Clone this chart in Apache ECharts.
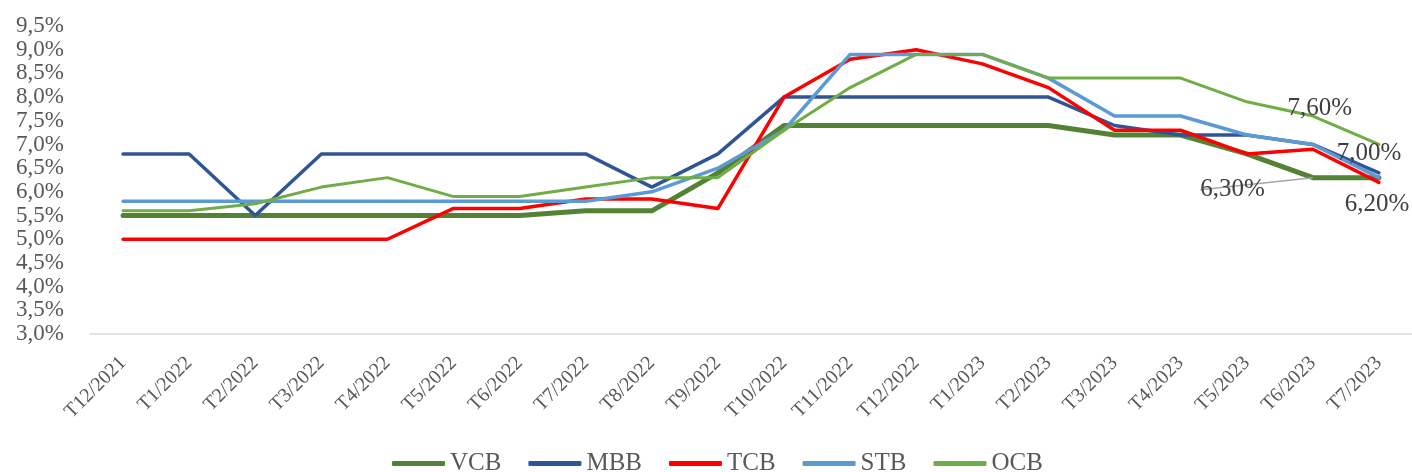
<!DOCTYPE html>
<html>
<head>
<meta charset="utf-8">
<script src="https://cdn.jsdelivr.net/npm/echarts@6/dist/echarts.min.js"></script>
<style>html,body{margin:0;padding:0;background:#fff}#c{width:1412px;height:472px}</style>
</head>
<body>
<div id="c"></div>
<script>
const categories = ['T12/2021','T1/2022','T2/2022','T3/2022','T4/2022','T5/2022','T6/2022','T7/2022','T8/2022','T9/2022','T10/2022','T11/2022','T12/2022','T1/2023','T2/2023','T3/2023','T4/2023','T5/2023','T6/2023','T7/2023'];
const VCB = [5.5,5.5,5.5,5.5,5.5,5.5,5.5,5.6,5.6,6.4,7.4,7.4,7.4,7.4,7.4,7.2,7.2,6.8,6.3,6.3];
const MBB = [6.8,6.8,5.5,6.8,6.8,6.8,6.8,6.8,6.1,6.8,8.0,8.0,8.0,8.0,8.0,7.4,7.2,7.2,7.0,6.4];
const TCB = [5.0,5.0,5.0,5.0,5.0,5.65,5.65,5.85,5.85,5.65,8.0,8.8,9.0,8.7,8.2,7.3,7.3,6.8,6.9,6.2];
const STB = [5.8,5.8,5.8,5.8,5.8,5.8,5.8,5.8,6.0,6.5,7.3,8.9,8.9,8.9,8.4,7.6,7.6,7.2,7.0,6.3];
const OCB = [5.6,5.6,5.75,6.1,6.3,5.9,5.9,6.1,6.3,6.3,7.3,8.2,8.9,8.9,8.4,8.4,8.4,7.9,7.6,7.0];
const yTicks = {min: 3.0, max: 9.5, interval: 0.5};

const serif = '"Liberation Serif","Times New Roman",serif';
const fmt1 = v => v.toFixed(1).replace('.', ',') + '%';
const fmt2 = v => v.toFixed(2).replace('.', ',') + '%';

const labelStyle = {show: true, fontFamily: serif, fontSize: 25, color: '#404040', formatter: p => fmt2(p.value)};

function withLabels(arr, labels) {
  return arr.map((v, i) => labels[i] ? {value: v, label: Object.assign({}, labelStyle, labels[i])} : v);
}

const mk = (name, data, color, width, z, extra) => Object.assign({
  name, type: 'line', data, symbol: 'circle', symbolSize: 0, showSymbol: true, z,
  lineStyle: {color, width, cap: 'round', join: 'round'},
  itemStyle: {color},
  emphasis: {disabled: true},
  animation: false
}, extra || {});

const option = {
  backgroundColor: '#fff',
  animation: false,
  grid: {left: 90, right: 0, top: 26, bottom: 138, containLabel: false},
  legend: {
    bottom: -9, left: 387, itemWidth: 53, itemHeight: 5, itemGap: 27, icon: 'roundRect',
    textStyle: {fontFamily: serif, fontSize: 25, color: '#595959'},
    data: ['VCB','MBB','TCB','STB','OCB']
  },
  xAxis: {
    type: 'category', data: categories, boundaryGap: true,
    axisLine: {lineStyle: {color: '#d9d9d9', width: 1.5}},
    axisTick: {show: false},
    axisLabel: {rotate: 45, interval: 0, margin: 26, fontFamily: serif, fontSize: 20, color: '#595959'}
  },
  yAxis: {
    type: 'value', min: yTicks.min, max: yTicks.max, interval: yTicks.interval,
    axisLine: {show: false}, axisTick: {show: false}, splitLine: {show: false},
    axisLabel: {margin: 26, fontFamily: serif, fontSize: 23, color: '#595959', formatter: fmt1,
      showMinLabel: true, showMaxLabel: true, hideOverlap: false}
  },
  series: [
    mk('VCB', withLabels(VCB, {18: {position: 'left', distance: 5}}), '#548235', 5, 2, {
      labelLayout: p => p.dataIndex === 18 ? {dx: -43, dy: 12} : {},
      labelLine: {show: true, lineStyle: {color: '#a6a6a6', width: 1.5}, length2: 0}
    }),
    mk('MBB', MBB, '#2f5597', 3.5, 3),
    mk('TCB', withLabels(TCB, {19: {position: 'bottom', distance: 8, offset: [-2, 2]}}), '#ff0000', 3.5, 4),
    mk('STB', STB, '#5b9bd5', 3.5, 5),
    mk('OCB', withLabels(OCB, {18: {position: 'top', distance: 5, offset: [7, 10]}, 19: {position: 'inside', offset: [-10, 9]}}), '#70ad47', 3, 6)
  ]
};
const chart = echarts.init(document.getElementById('c'), null, {renderer: 'canvas'});
chart.setOption(option);
</script>
</body>
</html>
